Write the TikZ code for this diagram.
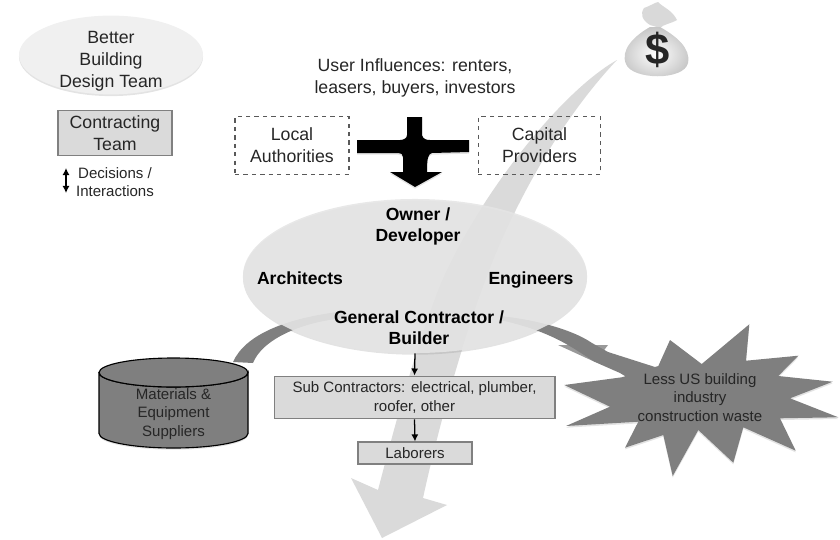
\documentclass[tikz,border=0pt]{standalone}
\usepackage{fontspec}
\setmainfont{Liberation Sans}
\usetikzlibrary{shapes.geometric,arrows.meta,shadows}
\definecolor{palegray}{HTML}{F0F0F0}
\definecolor{boxgray}{HTML}{DADADA}
\definecolor{midgray}{HTML}{7F7F7F}
\tikzset{
    bigtext/.style={align=center, text=black!85, font=\fontsize{12.6}{15.6}\selectfont},
    smalltext/.style={align=center, text=black!85, font=\fontsize{10.7}{12.9}\selectfont},
    boldtext/.style={align=center, font=\fontsize{12.5}{15.2}\selectfont\bfseries},
    greybox/.style={draw=gray, fill=boxgray, line width=0.8pt, inner sep=0pt},
    dashbox/.style={draw=black!65, dashed, line width=0.8pt, inner sep=0pt},
    softshadow/.style={drop shadow={opacity=0.22, shadow xshift=0pt, shadow yshift=-1.2pt}},
    link/.style={-{Latex[length=5pt,width=5pt]}, line width=0.9pt}
}
\begin{document}
\begin{tikzpicture}[x=0.025cm, y=-0.025cm]
    \useasboundingbox (0,0) rectangle (840,539);

    % big sweep from the money bag
    \fill[boxgray] (617,60) .. controls (555,95) and (470,210) .. (438,290)
        .. controls (415,350) and (395,425) .. (378,490) -- (351,478) -- (382,538) -- (447,505)
        -- (423,498) .. controls (440,420) and (465,335) .. (482,290)
        .. controls (510,210) and (560,120) .. (617,60) -- cycle;

    % side arcs
    \fill[midgray] (233,362) .. controls (245,335) and (285,318) .. (345,311)
        -- (345,318) .. controls (300,322) and (262,340) .. (253,363) -- cycle;
    \fill[midgray] (500,316) .. controls (530,319) and (570,328) .. (592,343)
        -- (608,352) -- (655,367) -- (640,385) -- (620,373) -- (595,362)
        .. controls (575,350) and (555,332) .. (500,320) -- cycle;
    \fill[midgray, opacity=0.8] (558,345) -- (608,345) -- (595,362) -- cycle;

    % main ellipse
    \node[ellipse, fill=boxgray!70, opacity=0.9, softshadow, minimum width=8.6cm, minimum height=3.85cm, inner sep=0pt] (team) at (415,276) {};
    \node[boldtext] (owner) at (418,226.5) {Owner /\\Developer};
    \node[boldtext, anchor=base] (architects) at (300,284) {Architects};
    \node[boldtext, anchor=base] (engineers) at (531,284) {Engineers};
    \node[boldtext] (contractor) at (419,327.5) {General Contractor /\\Builder};

    % key
    \node[ellipse, fill=palegray, softshadow, minimum width=4.6cm, minimum height=1.97cm, inner sep=0pt] (design) at (111,55) {};
    \node[bigtext] (designtext) at (111,61) {Better\\Building\\Design Team};
    \node[greybox, minimum width=2.85cm, minimum height=1.12cm, bigtext] (contracting) at (115,133) {Contracting\\Team};
    \coordinate (keytop) at (66,168);
    \coordinate (keybot) at (66,193);
    \draw[{Latex[length=5pt,width=5pt]}-{Latex[length=5pt,width=5pt]}, line width=0.9pt] (keytop) -- (keybot);
    \node[smalltext] (decisions) at (115,182) {Decisions /\\Interactions};

    % influences
    \node[bigtext] (users) at (415,78) {User Influences: renters,\\leasers, buyers, investors};
    \node[dashbox, bigtext, minimum width=2.85cm, minimum height=1.43cm] (local) at (292,145.5) {Local\\Authorities};
    \node[dashbox, bigtext, minimum width=3.07cm, minimum height=1.43cm] (capital) at (539.5,145.5) {Capital\\Providers};
    \fill[black, softshadow] (407,117) -- (422,117) -- (422,135) .. controls (423,139) and (426,140) .. (430,140)
        -- (469,140) -- (469,152) -- (432,153) .. controls (428,154) and (427,158) .. (427,172)
        -- (442,172) -- (415,187) -- (390,172) -- (403,172) -- (403,157) .. controls (403,154) and (401,153) .. (398,153)
        -- (357,153) -- (357,140) -- (400,140) .. controls (404,140) and (407,138) .. (407,135) -- cycle;

    % supply chain
    \filldraw[fill=midgray, draw=black, line width=0.8pt, softshadow] (99,372.5) -- (99,433.5)
        arc[start angle=180, end angle=0, x radius=74.5, y radius=14.5] -- (248,372.5)
        arc[start angle=0, end angle=180, x radius=74.5, y radius=14.5] -- cycle;
    \filldraw[fill=midgray, draw=black, line width=0.8pt] (173.5,372.5) ellipse [x radius=74.5, y radius=14.5];
    \node[smalltext] (materials) at (173.5,414) {Materials \&\\Equipment\\Suppliers};
    \node[greybox, smalltext, minimum width=7.02cm, minimum height=1.07cm] (subs) at (414.5,397.5) {Sub Contractors: electrical, plumber,\\roofer, other};
    \node[greybox, smalltext, minimum width=2.85cm, minimum height=0.55cm] (laborers) at (415,453) {Laborers};
    \draw[link] (team.south) -- (subs.north);
    \draw[link] (subs.south) -- (laborers.north);

    % waste star
    \fill[midgray, softshadow] (670,340) -- (701.7,364) -- (749.3,324.3) -- (746,360.7) -- (798.3,355.7) -- (778.3,376)
        -- (832.7,381.7) -- (790,398.3) -- (838.3,417.3) -- (780,418.3) -- (795.7,450.7) -- (743.3,427.3)
        -- (733.3,462.7) -- (698.3,430) -- (672.7,476) -- (663.3,435) -- (625,447.7) -- (638.3,421.7)
        -- (566,426) -- (610,406.7) -- (564.3,385) -- (621.7,377.3) -- (658.3,366) -- cycle;
    \node[smalltext] (waste) at (700,397.5) {Less US building\\industry\\construction waste};

    % money bag
    \fill[gray!30] (650,25) .. controls (642,20) and (640,14) .. (644,8) .. controls (650,6) and (654,3) .. (658,2)
        .. controls (664,8) and (672,10) .. (677,20) .. controls (670,24) and (664,24) .. (660,28) -- cycle;
    \shade[inner color=white, outer color=gray!45] (650,27) .. controls (634,36) and (620,50) .. (626,64)
        .. controls (632,80) and (684,81) .. (688,63) .. controls (691,48) and (676,36) .. (660,27) -- cycle;
    \node[inner sep=0pt, text=black!85, font=\fontsize{31}{31}\selectfont\bfseries] (dollar) at (658,50) {\$};
\end{tikzpicture}
\end{document}
